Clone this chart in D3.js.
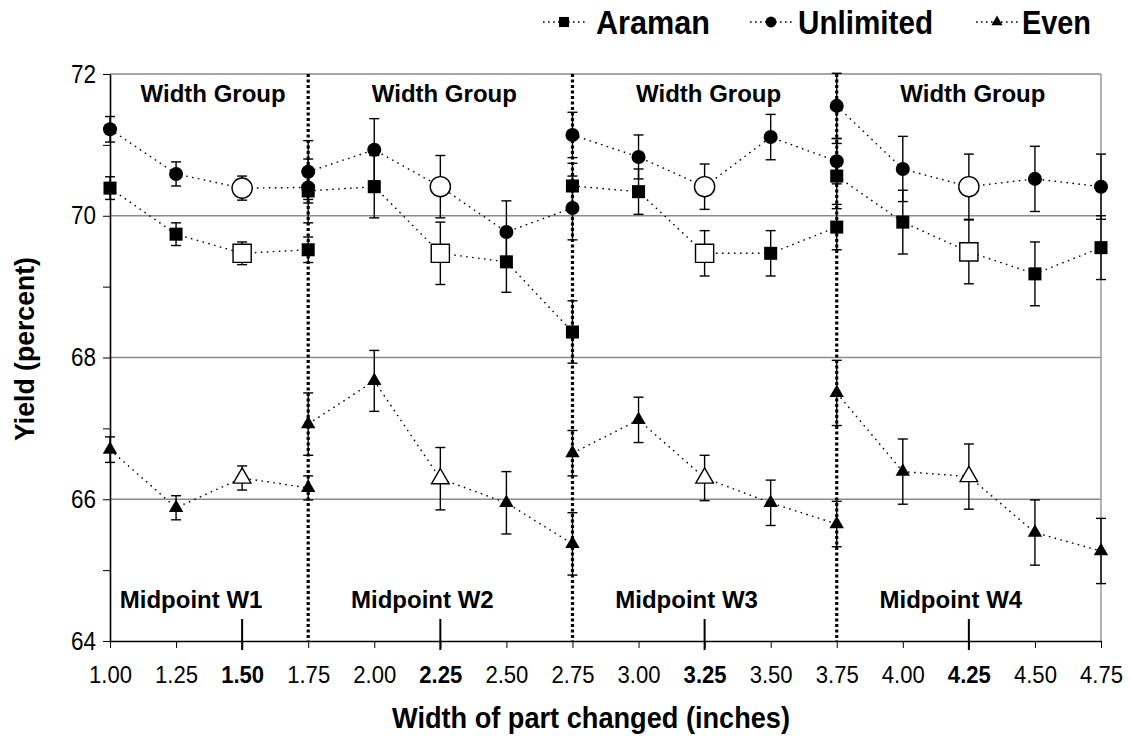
<!DOCTYPE html>
<html>
<head>
<meta charset="utf-8">
<script src="https://cdn.jsdelivr.net/npm/d3@7"></script>
<style>
  body { margin: 0; background: #fff; }
  text { font-family: "Liberation Sans", Arial, sans-serif; }
</style>
</head>
<body>
<script>
var w = 1131;
var h = 736;

// data
var groupNames = ["W1", "W2", "W3", "W4"];
var groupX = [
  [1.00, 1.25, 1.50, 1.75],
  [1.75, 2.00, 2.25, 2.50, 2.75],
  [2.75, 3.00, 3.25, 3.50, 3.75],
  [3.75, 4.00, 4.25, 4.50, 4.75]
];
var midpoints = [1.50, 2.25, 3.25, 4.25];
var boundaries = [1.75, 2.75, 3.75];
var xTicks = [1.00, 1.25, 1.50, 1.75, 2.00, 2.25, 2.50, 2.75, 3.00, 3.25, 3.50, 3.75, 4.00, 4.25, 4.50, 4.75];
var yTicks = [64, 65, 66, 67, 68, 69, 70, 71, 72];

var araman = [
  [70.39, 69.74, 69.47, 69.52],
  [70.35, 70.41, 69.47, 69.35, 68.36],
  [70.42, 70.34, 69.47, 69.47, 69.84],
  [70.56, 69.91, 69.49, 69.18, 69.55]
];
var aramanErr = [
  [0.16, 0.16, 0.16, 0.18],
  [0.45, 0.44, 0.44, 0.43, 0.44],
  [0.32, 0.32, 0.32, 0.32, 0.32],
  [0.46, 0.45, 0.45, 0.45, 0.45]
];
var unlimited = [
  [71.22, 70.59, 70.39, 70.40],
  [70.62, 70.93, 70.41, 69.77, 70.11],
  [71.14, 70.83, 70.41, 71.11, 70.77],
  [71.55, 70.66, 70.41, 70.52, 70.41]
];
var unlimitedErr = [
  [0.18, 0.17, 0.17, 0.17],
  [0.44, 0.44, 0.44, 0.44, 0.45],
  [0.32, 0.31, 0.32, 0.32, 0.32],
  [0.46, 0.46, 0.46, 0.46, 0.46]
];
var even = [
  [66.70, 65.88, 66.30, 66.16],
  [67.06, 67.67, 66.29, 65.95, 65.37],
  [66.65, 67.12, 66.30, 65.95, 65.65],
  [67.50, 66.39, 66.32, 65.53, 65.27]
];
var evenErr = [
  [0.18, 0.17, 0.17, 0.17],
  [0.44, 0.43, 0.44, 0.44, 0.44],
  [0.32, 0.32, 0.32, 0.32, 0.32],
  [0.46, 0.46, 0.46, 0.46, 0.46]
];

var series = [
  {name: "Araman", values: araman, err: aramanErr, symbol: d3.symbolSquare, size: 170, open: 330},
  {name: "Unlimited", values: unlimited, err: unlimitedErr, symbol: d3.symbolCircle, size: 155, open: 320},
  {name: "Even", values: even, err: evenErr, symbol: d3.symbolTriangle, size: 90, open: 135}
];

var pLeft = 110, pRight = 1101, pTop = 74, pBottom = 641;

var svg = d3.select("body").append("svg")
    .attr("width", w)
    .attr("height", h);

var x = d3.scaleLinear().domain([1, 4.75]).range([pLeft, pRight]);
var y = d3.scaleLinear().domain([64, 72]).range([pBottom, pTop]);

// grid lines + frame
svg.selectAll(".grid").data([66, 68, 70]).enter().append("line")
    .attr("x1", pLeft).attr("x2", pRight)
    .attr("y1", d => y(d)).attr("y2", d => y(d))
    .attr("stroke", "#8a8a8a").attr("stroke-width", 1.3);
svg.append("line").attr("x1", pLeft).attr("x2", pRight).attr("y1", y(72)).attr("y2", y(72))
    .attr("stroke", "#8a8a8a").attr("stroke-width", 1.3);
svg.append("line").attr("x1", pRight).attr("x2", pRight).attr("y1", y(72)).attr("y2", y(64))
    .attr("stroke", "#8a8a8a").attr("stroke-width", 1.3);

// group separators
svg.selectAll(".sep").data(boundaries).enter().append("line")
    .attr("x1", d => x(d)).attr("x2", d => x(d))
    .attr("y1", y(72)).attr("y2", y(64))
    .attr("stroke", "#000").attr("stroke-width", 3.2)
    .attr("stroke-dasharray", "3,2.5");

// axes
var xAxis = svg.append("g")
    .attr("transform", "translate(0," + pBottom + ")")
    .call(d3.axisBottom(x).tickValues(xTicks).tickFormat(d3.format(".2f")).tickSize(7).tickPadding(18).tickSizeOuter(0));
xAxis.select(".domain").attr("stroke-width", 1.6);
xAxis.selectAll("text")
    .style("font-size", "24px")
    .style("font-weight", d => midpoints.indexOf(d) >= 0 ? "bold" : "normal")
    .attr("textLength", 43).attr("lengthAdjust", "spacingAndGlyphs")
    .attr("fill", "#000");

var yAxis = svg.append("g")
    .attr("transform", "translate(" + pLeft + ",0)")
    .call(d3.axisLeft(y).tickValues(yTicks).tickFormat(d => d % 2 === 0 ? d : "").tickSize(7).tickPadding(7).tickSizeOuter(0));
yAxis.select(".domain").attr("stroke-width", 1.6);
yAxis.selectAll("text")
    .filter(d => d % 2 === 0)
    .style("font-size", "25px")
    .attr("textLength", 25).attr("lengthAdjust", "spacingAndGlyphs")
    .attr("fill", "#000");

// midpoint markers on x axis
svg.selectAll(".mid").data(midpoints).enter().append("line")
    .attr("x1", d => x(d)).attr("x2", d => x(d))
    .attr("y1", pBottom - 22).attr("y2", pBottom + 9)
    .attr("stroke", "#000").attr("stroke-width", 2);

// group labels
var groupCenter = groupX.map(g => (x(g[0]) + x(g[g.length - 1])) / 2);
svg.selectAll(".wg").data(groupNames).enter().append("text")
    .attr("x", (d, i) => groupCenter[i] + 4)
    .attr("y", 102)
    .attr("text-anchor", "middle")
    .style("font-size", "24px").style("font-weight", "bold")
    .text("Width Group");
svg.selectAll(".mp").data(groupNames).enter().append("text")
    .attr("x", (d, i) => groupCenter[i] - 18)
    .attr("y", 608)
    .attr("text-anchor", "middle")
    .style("font-size", "24px").style("font-weight", "bold")
    .text(d => "Midpoint " + d);

// series
var line = d3.line().x(d => x(d[0])).y(d => y(d[1]));

series.forEach(function(s) {
  s.values.forEach(function(vals, gi) {
    var pts = vals.map((v, i) => [groupX[gi][i], v, s.err[gi][i]]);
    svg.append("path").datum(pts)
        .attr("d", line)
        .attr("fill", "none").attr("stroke", "#000")
        .attr("stroke-width", 1.4).attr("stroke-dasharray", "1.6,4.4");
    var eb = svg.append("g");
    pts.forEach(function(p) {
      eb.append("line").attr("x1", x(p[0])).attr("x2", x(p[0]))
          .attr("y1", y(p[1] - p[2])).attr("y2", y(p[1] + p[2]))
          .attr("stroke", "#000").attr("stroke-width", 1.4);
      [p[1] - p[2], p[1] + p[2]].forEach(function(c) {
        eb.append("line").attr("x1", x(p[0]) - 5).attr("x2", x(p[0]) + 5)
            .attr("y1", y(c)).attr("y2", y(c))
            .attr("stroke", "#000").attr("stroke-width", 1.4);
      });
    });
  });
});

series.forEach(function(s) {
  s.values.forEach(function(vals, gi) {
    vals.forEach(function(v, i) {
      var xv = groupX[gi][i];
      var isMid = midpoints.indexOf(xv) >= 0;
      svg.append("path")
          .attr("d", d3.symbol().type(s.symbol).size(isMid ? s.open : s.size)())
          .attr("transform", "translate(" + x(xv) + "," + y(v) + ")")
          .attr("fill", isMid ? "#fff" : "#000")
          .attr("stroke", "#000").attr("stroke-width", isMid ? 1.4 : 0);
    });
  });
});

// legend
var legendX = [543, 750, 976];
var legendW = [114, 135, 69];
var leg = svg.selectAll(".leg").data(series).enter().append("g")
    .attr("transform", (d, i) => "translate(" + legendX[i] + ",22)");
leg.append("line").attr("x1", 0).attr("x2", 42).attr("y1", 0).attr("y2", 0)
    .attr("stroke", "#000").attr("stroke-width", 1.4).attr("stroke-dasharray", "1.6,3.4");
leg.append("path")
    .attr("d", d => d3.symbol().type(d.symbol).size(d.size * 0.6)())
    .attr("transform", "translate(21,0)")
    .attr("fill", "#000");
leg.append("text").attr("x", (d, i) => [53, 48, 46][i]).attr("y", 12)
    .style("font-size", "33px").style("font-weight", "bold")
    .attr("textLength", (d, i) => legendW[i]).attr("lengthAdjust", "spacingAndGlyphs")
    .text(d => d.name);

// axis titles
svg.append("text")
    .attr("x", 591).attr("y", 728)
    .attr("text-anchor", "middle")
    .style("font-size", "29px").style("font-weight", "bold")
    .attr("textLength", 398).attr("lengthAdjust", "spacingAndGlyphs")
    .text("Width of part changed (inches)");
svg.append("text")
    .attr("transform", "translate(34,349) rotate(-90)")
    .attr("text-anchor", "middle")
    .style("font-size", "28px").style("font-weight", "bold")
    .attr("textLength", 184).attr("lengthAdjust", "spacingAndGlyphs")
    .text("Yield (percent)");
</script>
</body>
</html>
